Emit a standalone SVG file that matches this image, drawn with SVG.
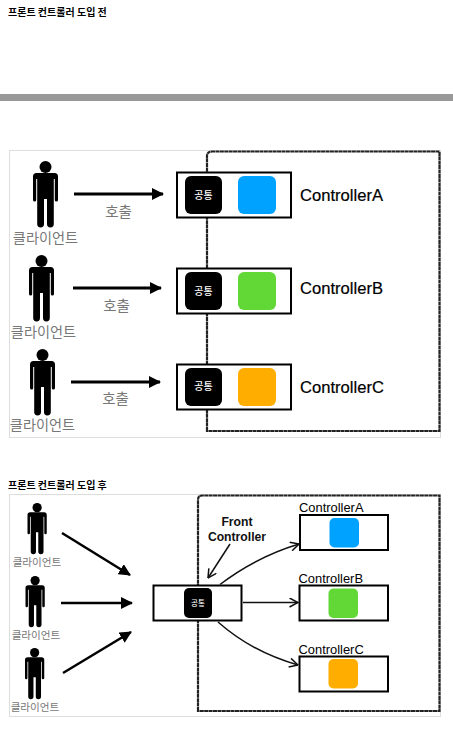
<svg xmlns="http://www.w3.org/2000/svg" xmlns:xlink="http://www.w3.org/1999/xlink" width="453" height="731" viewBox="0 0 453 731">
<style>
text{font-family:"Liberation Sans","Noto Sans CJK KR",sans-serif}
.ko{font-family:"Noto Sans CJK KR","Noto Sans",sans-serif}
.title{font-size:10px;font-weight:700;fill:#000}
.panel{fill:#fff;stroke:#ddd;stroke-width:1}
.rough{fill:none;stroke:#222;stroke-width:2.2;stroke-dasharray:4 .4}
.box{fill:#fff;stroke:#000;stroke-width:2}
.cl{fill:#777;text-anchor:middle}
.call{fill:#777;font-size:14.5px;text-anchor:middle}
.cm{fill:#fff;text-anchor:middle;font-weight:500}
.ctl{fill:#000;stroke:#000;stroke-width:.2}
.a{fill:#00A2FF}.b{fill:#61D836}.c{fill:#FFAE00}
.ln{stroke:#000;stroke-width:3;fill:none}
.ln2{stroke:#000;stroke-width:2.5;fill:none}
.sk{stroke:#111;stroke-width:1.5;fill:none}
</style>
<defs>
<g id="person">
<circle cx="12.5" cy="6" r="6"/>
<path d="M3.5 12H21.5Q25 12 25 15.5V39A1.6 1.6 0 0 1 21.8 39V18H20.8V63A3.4 3.4 0 0 1 14 63V38H11V63A3.4 3.4 0 0 1 4.2 63V18H3.2V39A1.6 1.6 0 0 1 0 39V15.5Q0 12 3.5 12Z"/>
</g>
<marker id="solid" viewBox="0 0 12 12" refX="11" refY="6" markerWidth="12" markerHeight="12" markerUnits="userSpaceOnUse" orient="auto"><path d="M0 0L12 6L0 12Z"/></marker>
<marker id="open" viewBox="0 0 10 10" refX="9.5" refY="5" markerWidth="10" markerHeight="10" markerUnits="userSpaceOnUse" orient="auto"><path d="M1 .5L9.5 5L1 9.5" fill="none" stroke="#111" stroke-width="1.5"/></marker>
</defs>
<rect width="453" height="731" fill="#fff"/>
<text class="title ko" x="8" y="15.5">프론트 컨트롤러 도입 전</text>
<rect id="divider" x="0" y="94" width="453" height="7" fill="#999"/>
<rect class="panel" x="9.5" y="150.5" width="431" height="287"/>
<path class="rough" d="M207 431V156Q207 151.500 212 151.500H439.500V431Z"/>
<g id="connectors-before">
<path class="ln" d="M74 194H163" marker-end="url(#solid)"/>
<path class="ln" d="M73 288H161" marker-end="url(#solid)"/>
<path class="ln" d="M71 382H160" marker-end="url(#solid)"/>
</g>
<g id="client-1"><use xlink:href="#person" href="#person" x="33" y="161"/><text class="cl ko" x="45.500" y="243" font-size="14.200">클라이언트</text></g>
<g id="client-2"><use xlink:href="#person" href="#person" x="29" y="255"/><text class="cl ko" x="43.500" y="337" font-size="14.200">클라이언트</text></g>
<g id="client-3"><use xlink:href="#person" href="#person" x="30" y="349"/><text class="cl ko" x="42.500" y="430" font-size="14.200">클라이언트</text></g>
<text class="call ko" x="118.500" y="217">호출</text>
<text class="call ko" x="116.500" y="311">호출</text>
<text class="call ko" x="115.500" y="404">호출</text>
<g id="controller-a">
<rect class="box" x="177" y="172.500" width="114" height="45"/>
<rect x="185" y="176" width="37" height="38" rx="6"/>
<text class="cm ko" x="203.500" y="199" font-size="10">공통</text>
<rect class="a" x="238" y="176" width="38" height="38" rx="6"/>
<text class="ctl" x="300" y="201" font-size="16.600">ControllerA</text>
</g>
<g id="controller-b">
<rect class="box" x="177" y="268.500" width="114" height="45"/>
<rect x="185" y="272" width="37" height="38" rx="6"/>
<text class="cm ko" x="203.500" y="295" font-size="10">공통</text>
<rect class="b" x="238" y="272" width="38" height="38" rx="6"/>
<text class="ctl" x="300" y="294" font-size="16.600">ControllerB</text>
</g>
<g id="controller-c">
<rect class="box" x="177" y="364.500" width="114" height="45"/>
<rect x="185" y="368" width="37" height="38" rx="6"/>
<text class="cm ko" x="203.500" y="390" font-size="10">공통</text>
<rect class="c" x="238" y="368" width="38" height="38" rx="6"/>
<text class="ctl" x="300" y="393" font-size="16.600">ControllerC</text>
</g>
<text class="title ko" x="8" y="488.500">프론트 컨트롤러 도입 후</text>
<rect class="panel" x="9.5" y="494.500" width="431" height="222"/>
<path class="rough" d="M198 711V500Q198 495.500 202 495.500H439.500V711Z"/>
<g id="client-4"><use xlink:href="#person" href="#person" transform="translate(27.500 503) scale(.77)"/><text class="cl ko" x="37" y="566" font-size="10.600">클라이언트</text></g>
<g id="client-5"><use xlink:href="#person" href="#person" transform="translate(25.500 576) scale(.77)"/><text class="cl ko" x="36" y="639" font-size="10.600">클라이언트</text></g>
<g id="client-6"><use xlink:href="#person" href="#person" transform="translate(25 648) scale(.77)"/><text class="cl ko" x="35" y="711" font-size="10.600">클라이언트</text></g>
<g id="front-controller">
<rect class="box" x="153.500" y="585.500" width="88" height="35"/>
<rect x="184" y="588" width="28" height="30" rx="5"/>
<text class="cm ko" x="198" y="606" font-size="7.500">공통</text>
<text x="237" y="526" font-size="12.200" font-weight="700" text-anchor="middle" fill="#111">Front</text>
<text x="237" y="541" font-size="12.200" font-weight="700" text-anchor="middle" fill="#111">Controller</text>
</g>
<g id="controller-a2">
<text x="299" y="512" font-size="12.900" fill="#000">ControllerA</text>
<rect class="box" x="300" y="515" width="88" height="35"/>
<rect class="a" x="329.500" y="518" width="29.500" height="29.500" rx="5"/>
</g>
<g id="controller-b2">
<text x="298.500" y="583" font-size="12.900" fill="#000">ControllerB</text>
<rect class="box" x="299.500" y="585.500" width="88.500" height="35"/>
<rect class="b" x="328.500" y="588.500" width="29.500" height="29.500" rx="5"/>
</g>
<g id="controller-c2">
<text x="298.500" y="654" font-size="12.900" fill="#000">ControllerC</text>
<rect class="box" x="299.500" y="656.500" width="88.500" height="35"/>
<rect class="c" x="328.500" y="659" width="29.500" height="29.500" rx="5"/>
</g>
<g id="connectors-after">
<path class="ln2" d="M62 533L130 575" marker-end="url(#solid)"/>
<path class="ln2" d="M61 603H132" marker-end="url(#solid)"/>
<path class="ln2" d="M63 673L131 632" marker-end="url(#solid)"/>
<path class="sk" d="M230 544L208 578" marker-end="url(#open)"/>
<path class="sk" d="M220 584.500Q256 557 299 544" marker-end="url(#open)"/>
<path class="sk" d="M243 602.500H298" marker-end="url(#open)"/>
<path class="sk" d="M218 622Q252 652 298 665" marker-end="url(#open)"/>
</g>
</svg>
